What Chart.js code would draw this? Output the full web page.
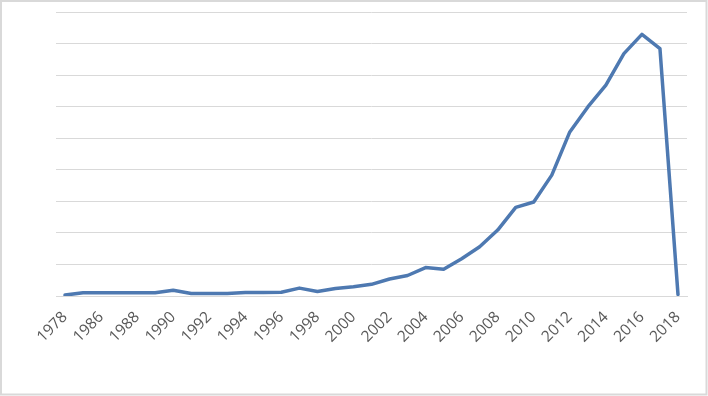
<!DOCTYPE html>
<html>
<head>
<meta charset="utf-8">
<script src="https://cdn.jsdelivr.net/npm/chart.js@4/dist/chart.umd.min.js"></script>
<style>
    html, body { margin: 0; padding: 0; background: #ffffff; }
    #wrap { position: relative; width: 708px; height: 396px; }
</style>
</head>
<body>
<div id="wrap"><canvas id="chart" width="708" height="396"></canvas></div>
<script>
// years on the category axis (Excel only labels every other one)
const years = [
    '1978', '1985', '1986', '1987', '1988', '1989', '1990', '1991', '1992',
    '1993', '1994', '1995', '1996', '1997', '1998', '1999', '2000', '2001',
    '2002', '2003', '2004', '2005', '2006', '2007', '2008', '2009', '2010',
    '2011', '2012', '2013', '2014', '2015', '2016', '2017', '2018'
];

// values (y axis units, no tick labels shown)
const values = [
    0.03, 0.10, 0.10, 0.10, 0.10, 0.10, 0.18, 0.08, 0.08,
    0.08, 0.11, 0.11, 0.12, 0.25, 0.14, 0.24, 0.29, 0.37,
    0.54, 0.65, 0.90, 0.85, 1.18, 1.56, 2.09, 2.81, 2.98,
    3.83, 5.20, 5.99, 6.68, 7.68, 8.29, 7.84, 0.05
];

const yMin = 0;
const yMax = 9;
const yStep = 1;

const frame = {
    id: 'frame',
    beforeDraw(chart) {
        const ctx = chart.ctx;
        ctx.save();
        ctx.fillStyle = '#ffffff';
        ctx.fillRect(0, 0, chart.width, chart.height);
        ctx.strokeStyle = '#d9d9d9';
        ctx.lineWidth = 2;
        ctx.strokeRect(1, 1, chart.width - 2.5, chart.height - 2.5);
        ctx.restore();
    }
};

new Chart(document.getElementById('chart'), {
    type: 'line',
    data: {
        labels: years,
        datasets: [{
            data: values,
            borderColor: '#4e79b1',
            borderWidth: 3.5,
            borderJoinStyle: 'round',
            borderCapStyle: 'round',
            pointRadius: 0,
            tension: 0,
            fill: false
        }]
    },
    options: {
        responsive: false,
        animation: false,
        layout: { padding: { left: 56, right: 21, top: 12, bottom: 0 } },
        plugins: {
            legend: { display: false },
            tooltip: { enabled: false }
        },
        scales: {
            x: {
                offset: true,
                grid: { display: false, drawTicks: false },
                border: { display: true, color: '#d9d9d9', width: 1 },
                ticks: {
                    autoSkip: false,
                    minRotation: 45,
                    maxRotation: 45,
                    padding: 12,
                    color: '#595959',
                    font: { family: 'Open Sans', size: 15.5 },
                    callback: function (val, i) {
                        return i % 2 === 0 ? this.getLabelForValue(val) : '';
                    }
                },
                afterFit: s => { s.height = 100; }
            },
            y: {
                min: yMin,
                max: yMax,
                ticks: { display: false, stepSize: yStep },
                grid: { color: '#d9d9d9', lineWidth: 1, drawTicks: false },
                border: { display: false },
                afterFit: s => { s.width = 0; }
            }
        }
    },
    plugins: [frame]
});
</script>
</body>
</html>
